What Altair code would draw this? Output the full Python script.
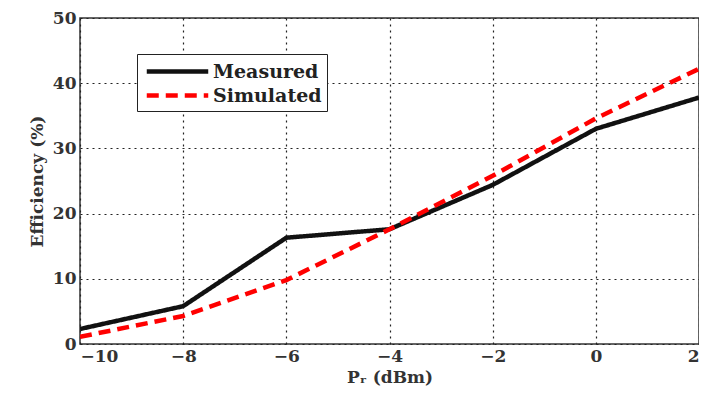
import altair as alt
import pandas as pd

x_vals = [-10, -8, -6, -4, -2, 0, 2]
measured = [2.3, 5.8, 16.3, 17.6, 24.4, 33.0, 37.8]
simulated = [1.1, 4.3, 9.8, 17.6, 25.8, 34.6, 42.2]
series_names = ["Measured", "Simulated"]

rows = []
for x, m, s in zip(x_vals, measured, simulated):
    rows.append({"x": x, "y": m, "series": series_names[0]})
    rows.append({"x": x, "y": s, "series": series_names[1]})
df = pd.DataFrame(rows)

FONT = "DejaVu Serif"

chart = alt.Chart(df).mark_line(strokeWidth=4.5, clip=True).encode(
    x=alt.X("x:Q", scale=alt.Scale(domain=[-10, 2], nice=False),
            axis=alt.Axis(values=x_vals, title="Pᵣ (dBm)", titlePadding=5)),
    y=alt.Y("y:Q", scale=alt.Scale(domain=[0, 50], nice=False),
            axis=alt.Axis(values=[0, 10, 20, 30, 40, 50], title="Efficiency (%)", titlePadding=6)),
    color=alt.Color("series:N", scale=alt.Scale(domain=series_names, range=["#111111", "#ff0000"]),
                    legend=alt.Legend(title=None, orient="none", legendX=57, legendY=36,
                                      symbolType="M-3,0L3,0", symbolSize=420, symbolStrokeWidth=4.5,
                                      strokeColor="#222222", fillColor="white", padding=5,
                                      labelFont=FONT, labelFontSize=19, labelFontWeight="bold",
                                      labelColor="#222222", rowPadding=1, labelOffset=23,
                                      labelLimit=300, symbolOffset=23)),
    strokeDash=alt.StrokeDash("series:N", scale=alt.Scale(domain=series_names, range=[[1, 0], [12, 7]]),
                              legend=None),
).properties(
    width=619, height=326,
    autosize=alt.AutoSizeParams(type="none"),
    padding={"left": 72, "top": 10, "right": 0, "bottom": 46},
).configure_view(
    stroke="#333333", strokeWidth=1.5
).configure_axis(
    grid=True, gridColor="#222222", gridDash=[2, 4], gridOpacity=1, gridWidth=1.2,
    domain=False, ticks=False,
    labelFont=FONT, labelFontSize=17, labelFontWeight="bold", labelColor="#333333",
    titleFont=FONT, titleFontSize=17, titleFontWeight="bold", titleColor="#333333",
    labelPadding=4,
)

chart.save("out.html", embed_options={"renderer": "svg", "actions": False})
